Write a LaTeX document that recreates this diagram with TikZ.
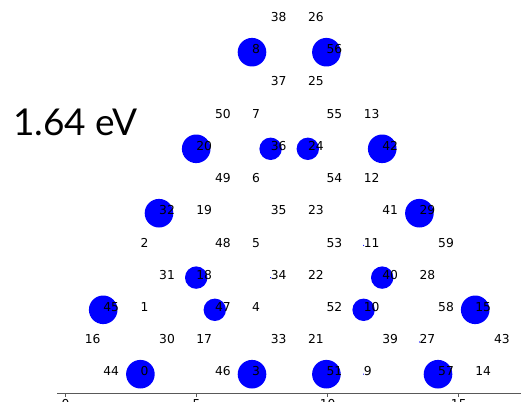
\documentclass[tikz,border=0pt]{standalone}
\usepackage{fontspec}
\newfontfamily\dvfont{DejaVu Sans}
\newfontfamily\latofont{Lato}
\begin{document}
\begin{tikzpicture}[x=1pt,y=-1pt,
  bigatom/.style={circle,fill=blue,draw=none,minimum size=28.6pt,inner sep=0pt},
  smallatom/.style={circle,fill=blue,draw=none,minimum size=22.4pt,inner sep=0pt},
  tinyatom/.style={circle,fill=blue,draw=none,minimum size=1.2pt,inner sep=0pt},
  lbl/.style={anchor=base west,inner sep=0pt,font=\dvfont\fontsize{12.3}{14}\selectfont,text=black},
  ticklbl/.style={anchor=north,inner sep=0pt,font=\dvfont\fontsize{12.3}{14}\selectfont,text=black},
  axisline/.style={draw=black!65,line width=0.8pt},
  tickline/.style={draw=black!65,line width=0.8pt}]
\clip (0,0) rectangle (521,401);
\useasboundingbox (0,0) rectangle (521,401);
% big atoms
\foreach \n/\x/\y in {8/252.0/52.2, 56/326.4/52.2, 20/196.2/148.8, 42/382.2/148.8,
  32/159.0/213.2, 29/419.4/213.2, 45/103.2/309.8, 15/475.2/309.8,
  0/140.4/374.2, 3/252.0/374.2, 51/326.4/374.2, 57/438.0/374.2}
  \node[bigatom] (a\n) at (\x,\y) {};
% small atoms
\foreach \n/\x/\y in {36/270.6/148.8, 24/307.8/148.8, 18/196.2/277.6, 40/382.2/277.6,
  47/214.8/309.8, 10/363.6/309.8}
  \node[smallatom] (a\n) at (\x,\y) {};
% tiny atoms
\foreach \n/\x/\y in {34/270.6/277.6, 11/363.6/245.4, 27/419.4/342.0, 9/363.6/374.2}
  \node[tinyatom] (a\n) at (\x,\y) {};
% labels
\foreach \n/\x/\y in {
  38/270.6/20.0, 26/307.8/20.0,
  8/252.0/52.2, 56/326.4/52.2,
  37/270.6/84.4, 25/307.8/84.4,
  50/214.8/116.6, 7/252.0/116.6, 55/326.4/116.6, 13/363.6/116.6,
  20/196.2/148.8, 36/270.6/148.8, 24/307.8/148.8, 42/382.2/148.8,
  49/214.8/181.0, 6/252.0/181.0, 54/326.4/181.0, 12/363.6/181.0,
  32/159.0/213.2, 19/196.2/213.2, 35/270.6/213.2, 23/307.8/213.2, 41/382.2/213.2, 29/419.4/213.2,
  2/140.4/245.4, 48/214.8/245.4, 5/252.0/245.4, 53/326.4/245.4, 11/363.6/245.4, 59/438.0/245.4,
  31/159.0/277.6, 18/196.2/277.6, 34/270.6/277.6, 22/307.8/277.6, 40/382.2/277.6, 28/419.4/277.6,
  45/103.2/309.8, 1/140.4/309.8, 47/214.8/309.8, 4/252.0/309.8, 52/326.4/309.8, 10/363.6/309.8, 58/438.0/309.8, 15/475.2/309.8,
  16/84.6/342.0, 30/159.0/342.0, 17/196.2/342.0, 33/270.6/342.0, 21/307.8/342.0, 39/382.2/342.0, 27/419.4/342.0, 43/493.8/342.0,
  44/103.2/374.2, 0/140.4/374.2, 46/214.8/374.2, 3/252.0/374.2, 51/326.4/374.2, 9/363.6/374.2, 57/438.0/374.2, 14/475.2/374.2}
  \node[lbl] (l\n) at (\x,\y+1.6) {\n};
% energy label
\node[anchor=base west,inner sep=0pt,font=\latofont\fontsize{37}{40}\selectfont,text=black] (title) at (13,135) {1.64 eV};
% axis
\coordinate (axL) at (57,393);
\coordinate (axR) at (521,393);
\draw[axisline] (axL) -- (axR);
\foreach \t/\x in {0/65.5, 5/196.6, 10/327.7, 15/458.8} {
  \coordinate (tk\t) at (\x,393);
  \coordinate (tke\t) at (\x,397);
  \draw[tickline] (tk\t) -- (tke\t);
  \node[ticklbl] (tl\t) at (\x,399.5) {\t};
}
\end{tikzpicture}
\end{document}
